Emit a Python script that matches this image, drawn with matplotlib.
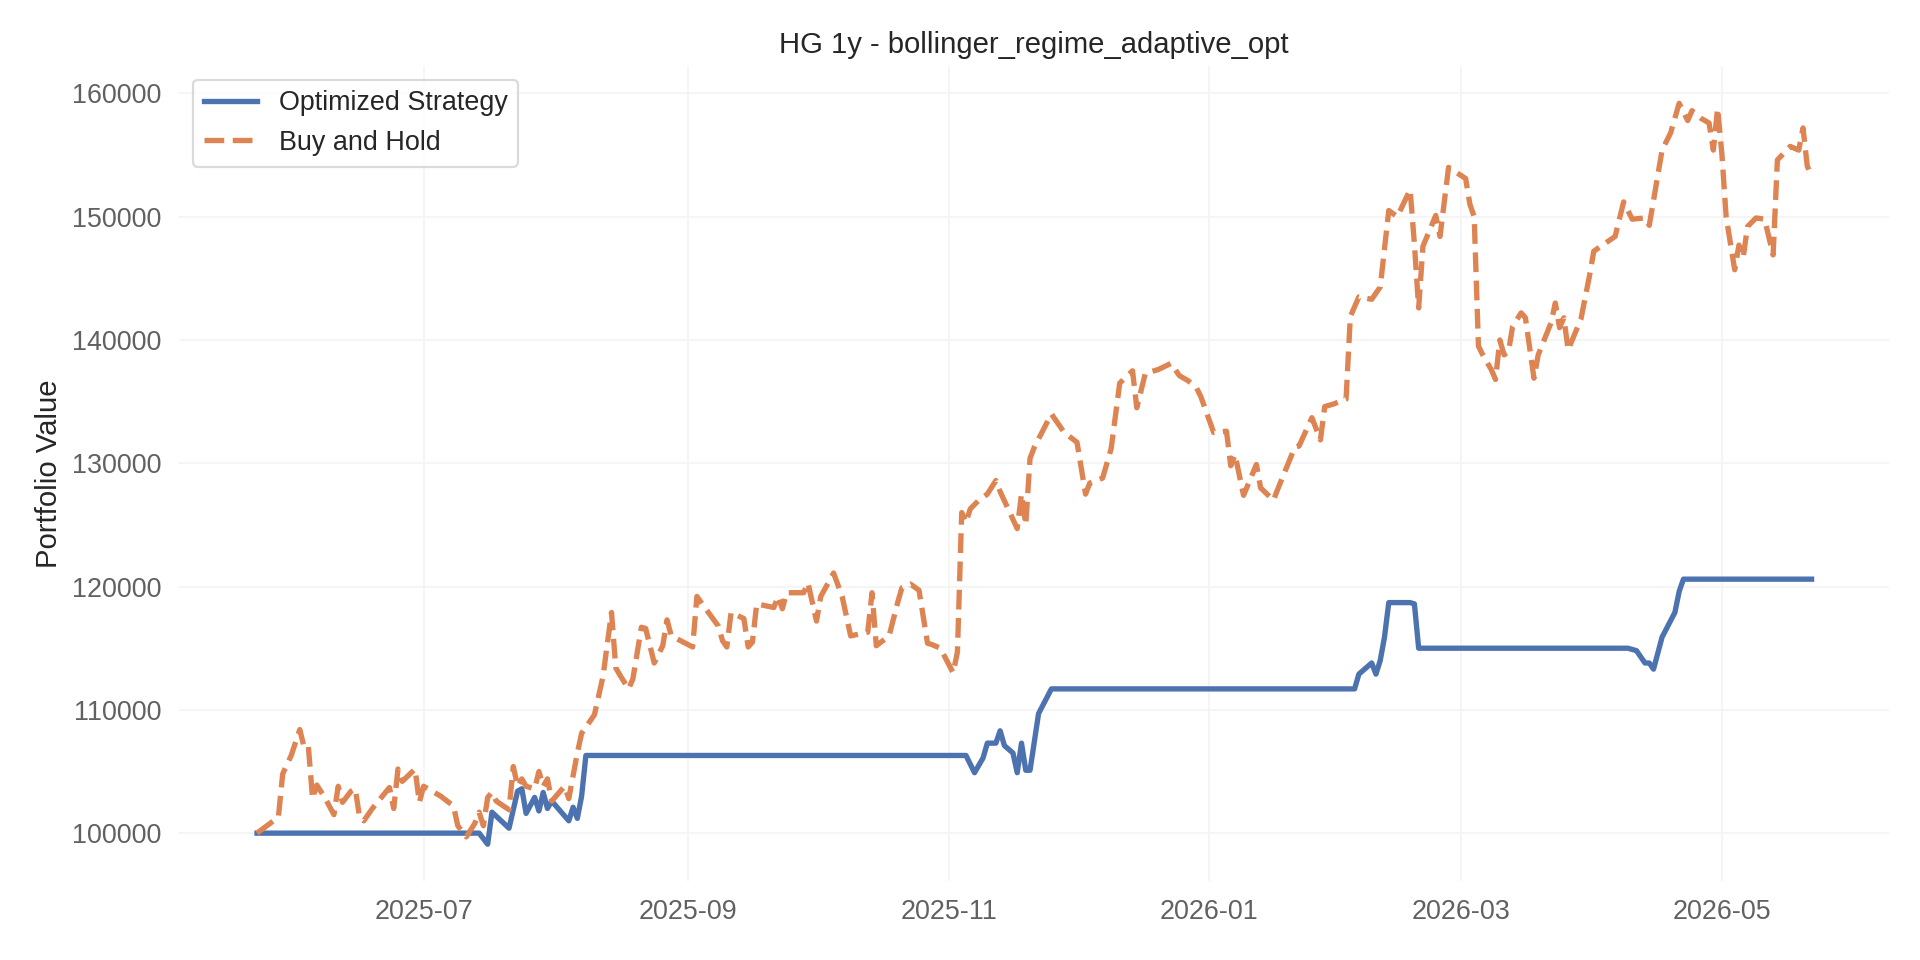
import matplotlib
matplotlib.use("Agg")
import matplotlib.pyplot as plt
import matplotlib.dates as mdates
from matplotlib.ticker import ScalarFormatter
import pandas as pd

plt.rcParams['font.family'] = ['Liberation Sans', 'DejaVu Sans']

strategy_dates = [
    "2025-05-23", "2025-07-14", "2025-07-16", "2025-07-17", "2025-07-21",
    "2025-07-23", "2025-07-24", "2025-07-25", "2025-07-27", "2025-07-28",
    "2025-07-29", "2025-07-30", "2025-07-31", "2025-08-04", "2025-08-05",
    "2025-08-06", "2025-08-07", "2025-08-08", "2025-11-05", "2025-11-07",
    "2025-11-09", "2025-11-10", "2025-11-12", "2025-11-13", "2025-11-14",
    "2025-11-16", "2025-11-17", "2025-11-18", "2025-11-19", "2025-11-20",
    "2025-11-22", "2025-11-25", "2026-02-04", "2026-02-05", "2026-02-08",
    "2026-02-09", "2026-02-10", "2026-02-11", "2026-02-12", "2026-02-17",
    "2026-02-18", "2026-02-19", "2026-04-09", "2026-04-11", "2026-04-13",
    "2026-04-14", "2026-04-15", "2026-04-17", "2026-04-20", "2026-04-21",
    "2026-04-22", "2026-05-22",
]
strategy_values = [
    100000, 100000, 99100, 101700, 100400,
    103400, 103600, 101600, 102900, 101800,
    103300, 102000, 102600, 101000, 102100,
    101200, 103000, 106300, 106300, 104900,
    106100, 107300, 107300, 108300, 107100,
    106500, 104900, 107300, 105100, 105100,
    109700, 111700, 111700, 112900, 113800,
    112900, 114000, 115900, 118700, 118700,
    118600, 115000, 115000, 114800, 113800,
    113800, 113300, 115900, 117900, 119600,
    120600, 120600,
]

hold_dates = [
    "2025-05-23", "2025-05-28", "2025-05-29", "2025-05-31", "2025-06-02",
    "2025-06-03", "2025-06-04", "2025-06-05", "2025-06-06", "2025-06-08",
    "2025-06-10", "2025-06-11", "2025-06-12", "2025-06-14", "2025-06-15",
    "2025-06-16", "2025-06-17", "2025-06-19", "2025-06-23", "2025-06-24",
    "2025-06-25", "2025-06-26", "2025-06-29", "2025-06-30", "2025-07-01",
    "2025-07-05", "2025-07-08", "2025-07-09", "2025-07-11", "2025-07-13",
    "2025-07-14", "2025-07-15", "2025-07-16", "2025-07-17", "2025-07-18",
    "2025-07-21", "2025-07-22", "2025-07-23", "2025-07-24", "2025-07-25",
    "2025-07-27", "2025-07-28", "2025-07-29", "2025-07-30", "2025-07-31",
    "2025-08-03", "2025-08-04", "2025-08-06", "2025-08-07", "2025-08-10",
    "2025-08-12", "2025-08-14", "2025-08-15", "2025-08-16", "2025-08-18",
    "2025-08-19", "2025-08-21", "2025-08-22", "2025-08-24", "2025-08-26",
    "2025-08-27", "2025-08-28", "2025-09-02", "2025-09-03", "2025-09-04",
    "2025-09-08", "2025-09-09", "2025-09-10", "2025-09-11", "2025-09-14",
    "2025-09-15", "2025-09-16", "2025-09-17", "2025-09-21", "2025-09-22",
    "2025-09-23", "2025-09-24", "2025-09-28", "2025-09-29", "2025-10-01",
    "2025-10-02", "2025-10-05", "2025-10-07", "2025-10-09", "2025-10-13",
    "2025-10-14", "2025-10-15", "2025-10-18", "2025-10-20", "2025-10-21",
    "2025-10-23", "2025-10-25", "2025-10-27", "2025-10-28", "2025-10-30",
    "2025-11-02", "2025-11-03", "2025-11-04", "2025-11-05", "2025-11-06",
    "2025-11-08", "2025-11-10", "2025-11-12", "2025-11-13", "2025-11-17",
    "2025-11-18", "2025-11-19", "2025-11-20", "2025-11-21", "2025-11-25",
    "2025-11-28", "2025-12-01", "2025-12-03", "2025-12-04", "2025-12-07",
    "2025-12-09", "2025-12-11", "2025-12-14", "2025-12-15", "2025-12-17",
    "2025-12-20", "2025-12-23", "2025-12-25", "2025-12-27", "2025-12-29",
    "2025-12-30", "2026-01-02", "2026-01-05", "2026-01-06", "2026-01-07",
    "2026-01-09", "2026-01-12", "2026-01-13", "2026-01-16", "2026-01-17",
    "2026-01-21", "2026-01-22", "2026-01-25", "2026-01-27", "2026-01-28",
    "2026-01-30", "2026-02-02", "2026-02-03", "2026-02-05", "2026-02-08",
    "2026-02-10", "2026-02-12", "2026-02-14", "2026-02-17", "2026-02-18",
    "2026-02-19", "2026-02-20", "2026-02-23", "2026-02-24", "2026-02-26",
    "2026-03-02", "2026-03-03", "2026-03-04", "2026-03-05", "2026-03-06",
    "2026-03-08", "2026-03-09", "2026-03-10", "2026-03-11", "2026-03-12",
    "2026-03-13", "2026-03-15", "2026-03-16", "2026-03-18", "2026-03-19",
    "2026-03-22", "2026-03-23", "2026-03-24", "2026-03-25", "2026-03-26",
    "2026-03-29", "2026-03-31", "2026-04-01", "2026-04-06", "2026-04-08",
    "2026-04-10", "2026-04-13", "2026-04-14", "2026-04-17", "2026-04-19",
    "2026-04-21", "2026-04-23", "2026-04-24", "2026-04-26", "2026-04-28",
    "2026-04-29", "2026-04-30", "2026-05-01", "2026-05-02", "2026-05-04",
    "2026-05-05", "2026-05-06", "2026-05-07", "2026-05-09", "2026-05-11",
    "2026-05-13", "2026-05-14", "2026-05-17", "2026-05-19", "2026-05-20",
    "2026-05-21", "2026-05-22",
]
hold_values = [
    100000, 101300, 104800, 106300, 108400,
    107000, 107100, 102800, 103900, 102800,
    101500, 103800, 102500, 103400, 103600,
    101300, 101000, 102000, 103700, 102000,
    105200, 104200, 105200, 102500, 103800,
    103000, 102200, 100600, 99700, 100800,
    101700, 100600, 102900, 103300, 102600,
    101900, 105400, 103800, 104400, 103800,
    103600, 105000, 103800, 104400, 102600,
    103800, 102800, 106500, 108100, 109600,
    112700, 117900, 113400, 112800, 111700,
    112500, 116700, 116600, 113800, 115200,
    117300, 116000, 115100, 119200, 118700,
    116800, 115600, 115100, 117900, 117400,
    115100, 115500, 118600, 118300, 119200,
    118200, 119500, 119500, 120300, 117200,
    119200, 121100, 119200, 116000, 116300,
    119500, 115200, 116000, 118700, 119900,
    120200, 119700, 115400, 115300, 115000,
    113000, 114700, 126000, 125200, 126300,
    127000, 127500, 128600, 127700, 124700,
    127500, 125000, 130400, 131300, 134000,
    132500, 131700, 127500, 128400, 128800,
    131200, 136500, 137500, 134500, 137300,
    137600, 138100, 137100, 136700, 136100,
    135400, 132500, 132600, 129800, 130700,
    127400, 129900, 128000, 127000, 127900,
    131300, 131400, 133700, 131900, 134600,
    134800, 135200, 141900, 143500, 143300,
    144300, 150500, 150000, 152200, 147800,
    142600, 147600, 150100, 148400, 154000,
    153100, 151000, 150000, 139500, 138800,
    137600, 136800, 140000, 138800, 139000,
    141100, 142200, 141800, 136900, 138800,
    141400, 143000, 141000, 141800, 139200,
    141700, 145200, 147200, 148400, 151200,
    149800, 149900, 149300, 155400, 156800,
    159200, 157800, 158600, 158000, 157600,
    155400, 158800, 155100, 150000, 145700,
    147700, 146700, 149200, 149900, 149800,
    146900, 154600, 155700, 155400, 157200,
    154100, 153300,
]

title_text = "HG 1y - bollinger_regime_adaptive_opt"


def plot_portfolio() -> None:
    """Строит сравнение стратегии и Buy and Hold."""
    strategy = pd.Series(strategy_values, index=pd.to_datetime(strategy_dates))
    hold = pd.Series(hold_values, index=pd.to_datetime(hold_dates))

    fig, ax = plt.subplots(figsize=(12, 6), dpi=160)
    fig.subplots_adjust(left=0.0934, right=0.984, top=0.931, bottom=0.082)

    ax.plot(strategy.index, strategy.values, color='#4C72B0', linewidth=2.4,
            label='Optimized Strategy')
    ax.plot(hold.index, hold.values, color='#DD8452', linewidth=2.4,
            linestyle='--', label='Buy and Hold')

    ax.set_title(title_text, fontsize=13.2, color='0.15')
    ax.set_ylabel('Portfolio Value', fontsize=13.2, color='0.15')

    ax.xaxis.set_major_locator(mdates.MonthLocator(bymonth=[1, 3, 5, 7, 9, 11]))
    ax.xaxis.set_major_formatter(mdates.DateFormatter('%Y-%m'))
    fmt = ScalarFormatter(useOffset=False)
    fmt.set_scientific(False)
    ax.yaxis.set_major_formatter(fmt)

    ax.tick_params(axis='both', length=0, labelsize=12.1, labelcolor='0.38', pad=8)
    ax.grid(True, color='0.955', linewidth=0.8)
    ax.set_axisbelow(True)
    for spine in ax.spines.values():
        spine.set_visible(False)

    leg = ax.legend(loc='upper left', fontsize=12.1, frameon=True, fancybox=True)
    leg.get_frame().set_edgecolor('0.82')
    leg.get_frame().set_linewidth(1.0)
    for t in leg.get_texts():
        t.set_color('0.15')

    fig.savefig('out.png', dpi=160, facecolor='white')


plot_portfolio()
